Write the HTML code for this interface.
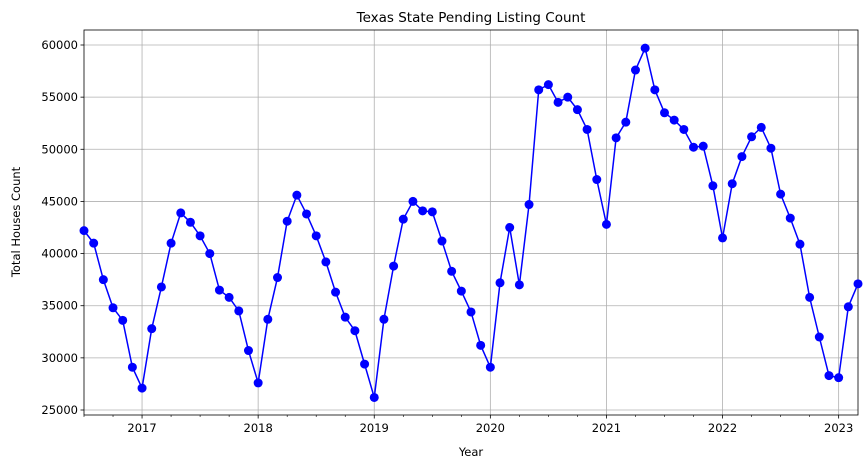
<!DOCTYPE html>
<html><head><meta charset="utf-8"><style>
body{margin:0;background:#fff;font-family:"Liberation Sans","DejaVu Sans",sans-serif}
svg text{font-family:"DejaVu Sans","Liberation Sans",sans-serif;fill:#000}
</style></head><body>
<svg id="chart" width="868" height="468">
<text x="471" y="22" font-size="13.5" text-anchor="middle">Texas State Pending Listing Count</text>
<text x="471" y="456" font-size="11.5" text-anchor="middle">Year</text>
<text x="20" y="222" font-size="11.5" text-anchor="middle" transform="rotate(-90 20 222)">Total Houses Count</text>
<g id="grid"></g><g id="axes"></g><g id="series"></g>
</svg>
<script>
const startYear = 2016, startMonth = 7;
const values = [42200,41000,37500,34800,33600,29100,
27100,32800,36800,41000,43900,43000,41700,40000,36500,35800,34500,30700,
27600,33700,37700,43100,45600,43800,41700,39200,36300,33900,32600,29400,
26200,33700,38800,43300,45000,44100,44000,41200,38300,36400,34400,31200,
29100,37200,42500,37000,44700,55700,56200,54500,55000,53800,51900,47100,
42800,51100,52600,57600,59700,55700,53500,52800,51900,50200,50300,46500,
41500,46700,49300,51200,52100,50100,45700,43400,40900,35800,32000,28300,
28100,34900,37100];
const yTicks = [25000,30000,35000,40000,45000,50000,55000,60000];
const xTickLabels = ["2017","2018","2019","2020","2021","2022","2023"];
const L=84,R=858,T=30,B=415;
const NS="http://www.w3.org/2000/svg";
const xs=i=>L+i*(R-L)/(values.length-1);
const ys=v=>410-(v-25000)*365/35000;
function mk(tag,attrs,parent){const e=document.createElementNS(NS,tag);for(const k in attrs)e.setAttribute(k,attrs[k]);parent.appendChild(e);return e;}
const grid=document.getElementById('grid'),axes=document.getElementById('axes'),ser=document.getElementById('series');
yTicks.forEach(v=>{
 const y=ys(v);
 const g=mk('line',{x1:L,x2:R,y1:y,y2:y,stroke:'#b0b0b0','stroke-width':0.8},grid);
 
 
 mk('line',{x1:L-3.5,x2:L,y1:y,y2:y,stroke:'#000','stroke-width':0.8},axes);
 const t=mk('text',{x:L-6,y:y+4,'font-size':11.5,'text-anchor':'end'},axes);
 t.textContent=v;
 
 
});
for(let i=0;i<values.length;i++){
 const m=(startMonth-1+i)%12;
 const x=xs(i);
 if(m===0){
  const yr=startYear+Math.floor((startMonth-1+i)/12);
  const g=mk('line',{x1:x,x2:x,y1:T,y2:B,stroke:'#b0b0b0','stroke-width':0.8},grid);
  
  
  mk('line',{x1:x,x2:x,y1:B,y2:B+3.5,stroke:'#000','stroke-width':0.8},axes);
  const lab=xTickLabels.indexOf(String(yr));
  const t=mk('text',{x:x,y:B+17,'font-size':11.5,'text-anchor':'middle'},axes);
  t.textContent=lab>=0?xTickLabels[lab]:yr;
  
  
 } else if(m%3===0){
  mk('line',{x1:x,x2:x,y1:B,y2:B+2,stroke:'#000','stroke-width':0.6},axes);
 }
}
const frame=mk('rect',{x:L,y:T,width:R-L,height:B-T,fill:'none',stroke:'#000','stroke-width':0.8},axes);


const line=mk('polyline',{points:values.map((v,i)=>xs(i)+','+ys(v)).join(' '),fill:'none',stroke:'#0000ff','stroke-width':1.5},ser);


values.forEach((v,i)=>{
 const c=mk('circle',{cx:xs(i),cy:ys(v),r:4.5,fill:'#0000ff'},ser);
 
 
});
</script>
</body></html>
